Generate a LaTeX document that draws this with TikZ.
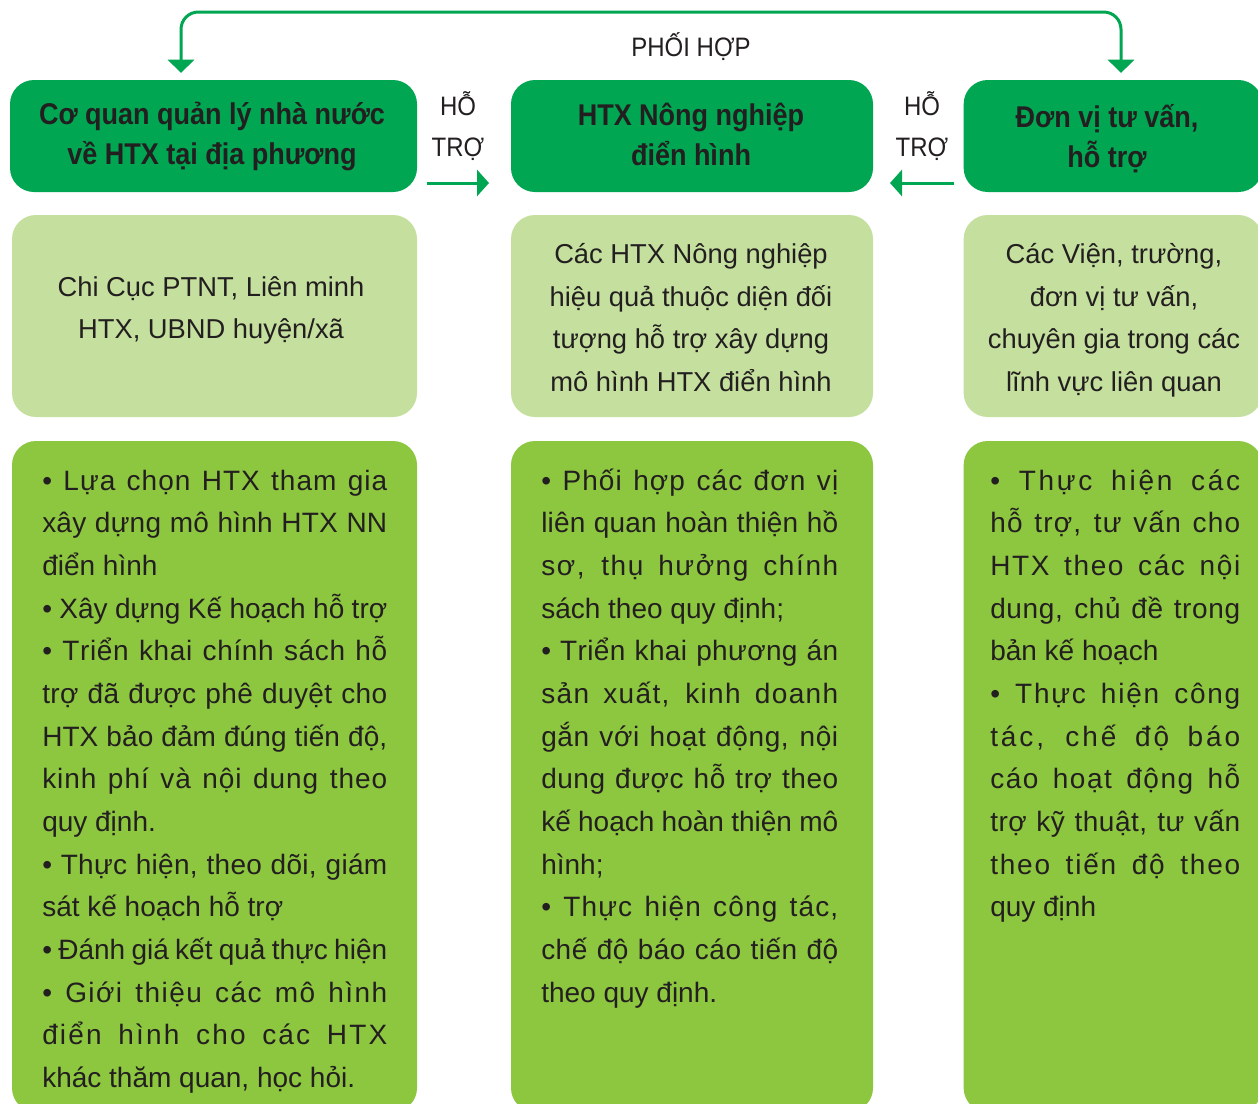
\documentclass[tikz,border=0pt]{standalone}
\usepackage{fontspec}
\setmainfont{Liberation Sans}
\newfontfamily\cond{Liberation Sans}[FakeStretch=0.9]
\usetikzlibrary{arrows.meta}
\definecolor{dg}{HTML}{00A651}
\definecolor{lg}{HTML}{C5E09E}
\definecolor{mg}{HTML}{8DC63F}
\definecolor{tx}{HTML}{231F20}
\ExplSyntaxOn
\dim_new:N \l_jl_kern_dim
\int_new:N \l_jl_n_int
\seq_new:N \l_jl_words_seq
\seq_new:N \l_jl_kerned_seq
\box_new:N \l_jl_box
\NewDocumentCommand \jline { m }
  {
    \hbox_set:Nn \l_jl_box { #1 }
    \int_set:Nn \l_jl_n_int { \tl_count:n { #1 } }
    \dim_set:Nn \l_jl_kern_dim { \hsize - \box_wd:N \l_jl_box }
    \dim_set:Nn \l_jl_kern_dim { \dim_max:nn { 0pt } { \l_jl_kern_dim } }
    \dim_set:Nn \l_jl_kern_dim { \l_jl_kern_dim * 3 / 5 }
    \dim_set:Nn \l_jl_kern_dim { \l_jl_kern_dim / \l_jl_n_int }
    \seq_set_split:Nnn \l_jl_words_seq { ~ } { #1 }
    \seq_set_map:NNn \l_jl_kerned_seq \l_jl_words_seq
      { \tl_map_inline:nn { ##1 } { ####1 \kern \l_jl_kern_dim } \unkern }
    \hbox_to_wd:nn { \hsize }
      { \strut \seq_use:Nn \l_jl_kerned_seq { \c_space_tl } }
  }
\ExplSyntaxOff
\newcommand\lline[1]{\hbox to \hsize{\strut#1\hfil}}
\tikzset{
  box/.style={rounded corners=18pt, inner sep=0pt},
  hdrtext/.style={text=tx, align=center, inner sep=0pt, font=\cond\bfseries\fontsize{22.5}{30}\selectfont},
  lighttext/.style={text=tx, align=center, inner sep=0pt, font=\fontsize{20.5}{32}\selectfont},
  bodytext/.style={text=tx, anchor=north west, inner sep=0pt},
  lbl/.style={text=tx, align=center, inner sep=0pt, font=\cond\fontsize{20}{31}\selectfont},
  conn/.style={draw=dg, line width=2.25pt},
}
\begin{document}
\begin{tikzpicture}[x=0.75pt,y=-0.75pt]
\useasboundingbox (0,0) rectangle (1258,1104);
\clip (0,0) rectangle (1258,1104);
\fill[white] (0,0) rectangle (1258,1104);

% header boxes
\node[box, fill=dg, minimum width=305.25pt, minimum height=84pt] (h1) at (213.5,136) {};
\node[box, fill=dg, minimum width=271.5pt, minimum height=84pt] (h2) at (692,136) {};
\node[box, fill=dg, minimum width=224pt, minimum height=84pt] (h3) at (1113,136) {};
\node[hdrtext] (h1t) at (212,136) {\strut Cơ quan quản lý nhà nước\\\strut về HTX tại địa phương};
\node[hdrtext] (h2t) at (691,137) {\strut HTX Nông nghiệp\\\strut điển hình};
\node[hdrtext] (h3t) at (1107,139) {\strut Đơn vị tư vấn,\\\strut hỗ trợ};

% light boxes
\node[box, fill=lg, minimum width=303.75pt, minimum height=151.5pt] (m1) at (214.5,316) {};
\node[box, fill=lg, minimum width=271.5pt, minimum height=151.5pt] (m2) at (692,316) {};
\node[box, fill=lg, minimum width=224pt, minimum height=151.5pt] (m3) at (1113,316) {};
\node[lighttext] (m1t) at (211,309) {\strut Chi Cục PTNT, Liên minh\\\strut HTX, UBND huyện/xã};
\node[lighttext] (m2t) at (691,319) {\strut Các HTX Nông nghiệp\\\strut hiệu quả thuộc diện đối\\\strut tượng hỗ trợ xây dựng\\\strut mô hình HTX điển hình};
\node[lighttext] (m3t) at (1114,319) {\strut Các Viện, trường,\\\strut đơn vị tư vấn,\\\strut chuyên gia trong các\\\strut lĩnh vực liên quan};

% bottom boxes
\node[box, fill=mg, minimum width=303.75pt, minimum height=503.25pt] (b1) at (214.5,776.5) {};
\node[box, fill=mg, minimum width=271.5pt, minimum height=503.25pt] (b2) at (692,776.5) {};
\node[box, fill=mg, minimum width=224pt, minimum height=503.25pt] (b3) at (1113,776.5) {};

\node[bodytext] (b1t) at (42,460) {\vbox{\hsize=258.75pt\fontsize{21}{32}\selectfont
\jline{• Lựa chọn HTX tham gia}
\jline{xây dựng mô hình HTX NN}
\lline{điển hình}
\jline{• Xây dựng Kế hoạch hỗ trợ}
\jline{• Triển khai chính sách hỗ}
\jline{trợ đã được phê duyệt cho}
\jline{HTX bảo đảm đúng tiến độ,}
\jline{kinh phí và nội dung theo}
\lline{quy định.}
\jline{• Thực hiện, theo dõi, giám}
\lline{sát kế hoạch hỗ trợ}
\jline{• Đánh giá kết quả thực hiện}
\jline{• Giới thiệu các mô hình}
\jline{điển hình cho các HTX}
\lline{khác thăm quan, học hỏi.}}};

\node[bodytext] (b2t) at (541,460) {\vbox{\hsize=222.75pt\fontsize{21}{32}\selectfont
\jline{• Phối hợp các đơn vị}
\jline{liên quan hoàn thiện hồ}
\jline{sơ, thụ hưởng chính}
\lline{sách theo quy định;}
\jline{• Triển khai phương án}
\jline{sản xuất, kinh doanh}
\jline{gắn với hoạt động, nội}
\jline{dung được hỗ trợ theo}
\jline{kế hoạch hoàn thiện mô}
\lline{hình;}
\jline{• Thực hiện công tác,}
\jline{chế độ báo cáo tiến độ}
\lline{theo quy định.}}};

\node[bodytext] (b3t) at (990,460) {\vbox{\hsize=187.5pt\fontsize{21}{32}\selectfont
\jline{• Thực hiện các}
\jline{hỗ trợ, tư vấn cho}
\jline{HTX theo các nội}
\jline{dung, chủ đề trong}
\lline{bản kế hoạch}
\jline{• Thực hiện công}
\jline{tác, chế độ báo}
\jline{cáo hoạt động hỗ}
\jline{trợ kỹ thuật, tư vấn}
\jline{theo tiến độ theo}
\lline{quy định}}};

% labels
\node[lbl] (phoihop) at (691,47) {PHỐI HỢP};
\node[lbl] (ht1) at (458,128) {\strut HỖ\\\strut TRỢ};
\node[lbl] (ht2) at (922,128) {\strut HỖ\\\strut TRỢ};

% connectors
\coordinate (pL) at (181,73);
\coordinate (pR) at (1121,73);
\coordinate (cL) at (181,12);
\coordinate (cR) at (1121,12);
\draw[conn, rounded corners=13pt, {Triangle[width=19.5pt,length=10pt]}-{Triangle[width=19.5pt,length=10pt]}] (pL) -- (cL) -- (cR) -- (pR);

\coordinate (a1s) at (427,183);
\coordinate (a1e) at (489,183);
\coordinate (a2s) at (954,183);
\coordinate (a2e) at (890,183);
\draw[conn, -{Triangle[width=19.5pt,length=9pt]}] (a1s) -- (a1e);
\draw[conn, -{Triangle[width=19.5pt,length=9pt]}] (a2s) -- (a2e);
\end{tikzpicture}
\end{document}
